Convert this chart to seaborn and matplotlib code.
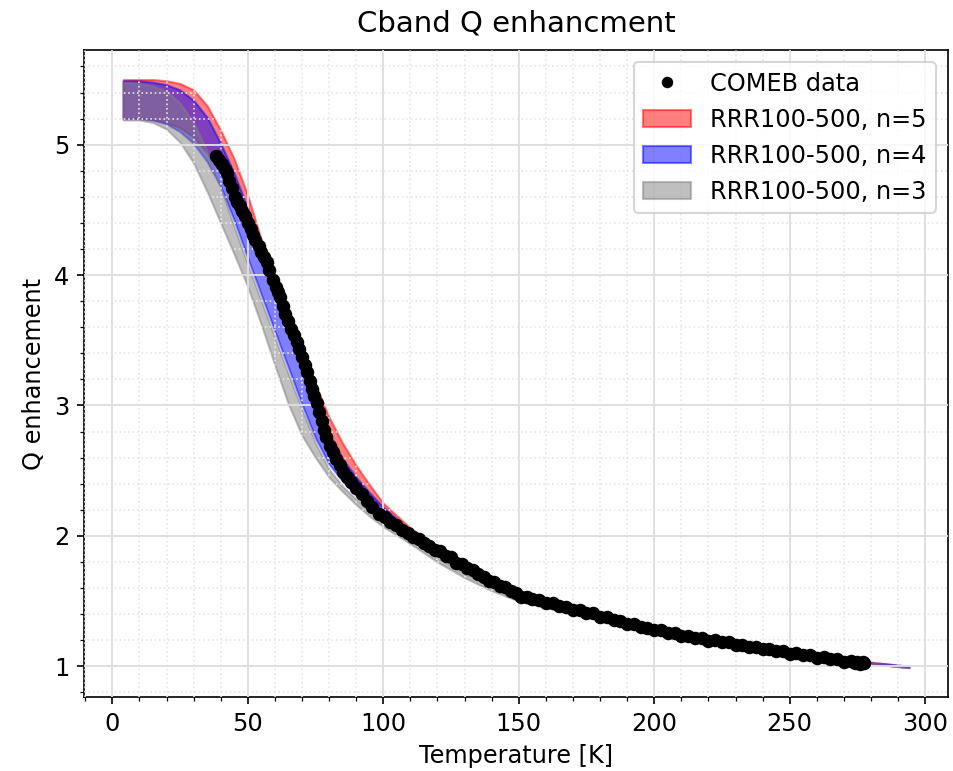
import numpy as np
import pandas as pd
import matplotlib
matplotlib.use("Agg")
from matplotlib import pyplot as plt
from matplotlib.patches import Patch
from matplotlib.lines import Line2D
import seaborn as sns

# temperature grid of the simulated bands
temp = [4, 10, 15, 20, 25, 30, 35, 40, 45, 50, 55, 60, 65, 70, 75, 80, 85, 90,
        95, 100, 110, 120, 130, 140, 150, 160, 180, 200, 225, 250, 277, 285, 294]

# n=3 band (RRR100 lower, RRR500 upper)
n3_low = [5.19, 5.19, 5.17, 5.12, 5.02, 4.86, 4.64, 4.40, 4.16, 3.91, 3.62, 3.31,
          3.01, 2.77, 2.60, 2.45, 2.34, 2.24, 2.15, 2.07, 1.94, 1.80, 1.68, 1.58,
          1.50, 1.45, 1.37, 1.28, 1.18, 1.10, 1.03, 1.01, 0.99]
n3_up = [5.48, 5.47, 5.45, 5.41, 5.32, 5.17, 4.95, 4.67, 4.37, 4.08, 3.80, 3.52,
         3.24, 2.97, 2.71, 2.51, 2.38, 2.28, 2.19, 2.11, 1.97, 1.83, 1.71, 1.61,
         1.52, 1.46, 1.37, 1.28, 1.18, 1.10, 1.03, 1.01, 0.99]

# n=4 band
n4_low = [5.20, 5.20, 5.19, 5.16, 5.10, 5.01, 4.87, 4.68, 4.42, 4.13, 3.85, 3.57,
          3.29, 3.01, 2.75, 2.55, 2.42, 2.31, 2.22, 2.13, 1.99, 1.85, 1.73, 1.62,
          1.53, 1.47, 1.37, 1.28, 1.18, 1.10, 1.03, 1.01, 0.99]
n4_up = [5.49, 5.49, 5.48, 5.46, 5.42, 5.34, 5.21, 5.01, 4.78, 4.51, 4.22, 3.95,
         3.67, 3.38, 3.08, 2.79, 2.59, 2.45, 2.33, 2.22, 2.04, 1.89, 1.77, 1.65,
         1.55, 1.48, 1.38, 1.29, 1.19, 1.11, 1.03, 1.02, 1.00]

# n=5 band
n5_low = [5.20, 5.20, 5.19, 5.17, 5.13, 5.06, 4.94, 4.78, 4.57, 4.33, 4.09, 3.84,
          3.57, 3.29, 2.99, 2.68, 2.49, 2.36, 2.25, 2.15, 2.00, 1.88, 1.76, 1.65,
          1.55, 1.48, 1.38, 1.28, 1.18, 1.10, 1.03, 1.01, 0.99]
n5_up = [5.50, 5.50, 5.50, 5.49, 5.47, 5.42, 5.30, 5.11, 4.89, 4.61, 4.27, 4.00,
         3.74, 3.46, 3.16, 2.91, 2.71, 2.54, 2.39, 2.25, 2.06, 1.92, 1.80, 1.68,
         1.57, 1.50, 1.39, 1.29, 1.19, 1.11, 1.04, 1.02, 1.00]

# COMEB measurement
comeb_T = [38.1, 39.5, 40.5, 41.5, 42.5, 43.2, 44.2, 45.4, 46.2, 47.0, 48.0, 49.0,
           50.0, 51.0, 52.0, 52.8, 54.0, 55.0, 56.0, 57.0, 58.0, 59.2, 60.3, 61.2,
           62.0, 63.0, 63.8, 64.8, 66.0, 67.0, 68.0, 69.0, 70.0, 71.0, 71.8, 72.8,
           73.6, 74.6, 75.5, 76.4, 77.3, 78.2, 79.0, 80.2, 81.3, 82.6, 84.0, 85.3,
           86.5, 88.0, 90.0, 92.0, 94.0, 96.0, 98.5, 100.5, 102.5, 104.8, 107.0,
           109.0, 111.0, 113.0, 115.0, 117.0, 119.0, 121.0, 123.0, 125.0, 127.0,
           129.0, 131.0, 133.0, 135.0, 137.0, 139.0, 141.0, 143.0, 145.0, 147.0,
           149.0, 151.0, 153.0, 155.0, 157.5, 160.0, 162.5, 165.0, 167.5, 170.0,
           172.5, 175.0, 177.5, 180.0, 182.5, 185.0, 187.5, 190.0, 192.5, 195.0,
           197.5, 200.0, 202.5, 205.0, 207.5, 210.0, 212.5, 215.0, 217.5, 220.0,
           222.5, 225.0, 227.5, 230.0, 232.5, 235.0, 237.5, 240.0, 242.5, 245.0,
           247.5, 250.0, 252.5, 255.0, 257.5, 260.0, 262.5, 265.0, 267.5, 270.0,
           272.5, 274.0, 275.0, 276.0, 277.0, 277.5]
comeb_Q = [4.91, 4.88, 4.85, 4.81, 4.78, 4.72, 4.67, 4.60, 4.56, 4.53, 4.49, 4.45,
           4.40, 4.35, 4.31, 4.27, 4.22, 4.18, 4.14, 4.10, 4.04, 3.96, 3.91, 3.87,
           3.83, 3.76, 3.70, 3.65, 3.59, 3.54, 3.49, 3.43, 3.37, 3.31, 3.26, 3.19,
           3.13, 3.07, 3.02, 2.95, 2.88, 2.81, 2.76, 2.69, 2.64, 2.59, 2.54, 2.49,
           2.45, 2.41, 2.37, 2.32, 2.27, 2.22, 2.17, 2.145, 2.105, 2.085, 2.045,
           2.025, 1.995, 1.975, 1.945, 1.925, 1.895, 1.885, 1.845, 1.835, 1.795,
           1.785, 1.755, 1.735, 1.705, 1.685, 1.655, 1.645, 1.615, 1.605, 1.575,
           1.565, 1.535, 1.535, 1.515, 1.505, 1.485, 1.485, 1.465, 1.455, 1.435,
           1.435, 1.405, 1.405, 1.375, 1.375, 1.355, 1.345, 1.325, 1.325, 1.305,
           1.295, 1.275, 1.275, 1.255, 1.255, 1.235, 1.235, 1.215, 1.215, 1.195,
           1.20, 1.185, 1.185, 1.165, 1.165, 1.145, 1.15, 1.135, 1.135, 1.115,
           1.115, 1.095, 1.10, 1.085, 1.085, 1.065, 1.07, 1.055, 1.055, 1.035,
           1.04, 1.025, 1.035, 1.02, 1.035, 1.025]

df = pd.DataFrame({"T": comeb_T, "Q": comeb_Q})

sns.set_style("ticks")
plt.rcParams["font.family"] = ["DejaVu Sans"]
plt.rcParams.update({"text.color": "black", "axes.labelcolor": "black",
                     "xtick.color": "black", "ytick.color": "black",
                     "axes.edgecolor": "black", "font.size": 11.5})

fig, ax = plt.subplots(figsize=(953 / 150, 771 / 150), dpi=150)

ax.fill_between(temp, n5_low, n5_up, color="red", alpha=0.5)
ax.fill_between(temp, n4_low, n4_up, color="blue", alpha=0.5)
ax.fill_between(temp, n3_low, n3_up, color="gray", alpha=0.5)
sns.scatterplot(data=df, x="T", y="Q", color="black", s=42, linewidth=0,
                ax=ax, zorder=3)

ax.minorticks_on()
ax.set_axisbelow(False)
ax.grid(which="major", color="0.87", linewidth=0.9)
ax.grid(which="minor", color="0.9", linestyle=":", linewidth=0.8)
for side in ["top", "right"]:
    ax.spines[side].set_visible(True)
ax.tick_params(labelsize=11.5)

ax.set_title("Cband Q enhancment", fontsize=14, pad=9)
ax.set_xlabel("Temperature [K]", fontsize=11.5)
ax.set_ylabel("Q enhancement", fontsize=11.5)

handles = [Line2D([], [], marker="o", color="black", linestyle="none", markersize=4.5),
           Patch(facecolor="red", edgecolor="red", alpha=0.5),
           Patch(facecolor="blue", edgecolor="blue", alpha=0.5),
           Patch(facecolor="gray", edgecolor="gray", alpha=0.5)]
labels = ["COMEB data", "RRR100-500, n=5", "RRR100-500, n=4", "RRR100-500, n=3"]
ax.legend(handles, labels, loc="upper right", fontsize=11.5)

plt.subplots_adjust(left=0.088, right=0.995, top=0.935, bottom=0.096)
plt.savefig("out.png", dpi=150)
